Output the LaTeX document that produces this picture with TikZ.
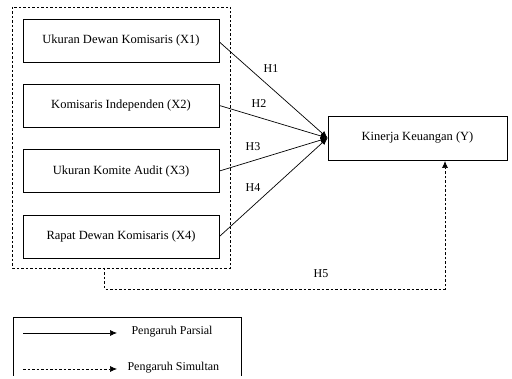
\documentclass[tikz,border=0pt]{standalone}
\usepackage{fontspec}
\setmainfont{Liberation Serif}
\usetikzlibrary{arrows.meta}
\begin{document}
\begin{tikzpicture}[x=1pt,y=-1pt,
  every node/.style={font=\fontsize{12.5}{14}\selectfont},
  varbox/.style={draw,line width=0.9pt,minimum width=196pt,minimum height=43pt,inner sep=0pt},
  solidarrow/.style={line width=0.7pt,-{Latex[length=7pt,width=6pt]}},
  dasharrow/.style={line width=0.7pt,dash pattern=on 2.5pt off 2pt,-{Latex[length=7pt,width=6pt]}},
  lbl/.style={font=\fontsize{12}{14}\selectfont}]
\useasboundingbox (0,0) rectangle (512,379);
% faint watermark
\fill[black!4] (60,0) arc[start angle=180,end angle=360,x radius=130,y radius=110] -- cycle;
% outer dashed group box
\draw[line width=0.8pt,dash pattern=on 2.5pt off 2pt] (12.5,7) rectangle (230.5,268);
\node[varbox] (x1) at (121,40.5) {Ukuran Dewan Komisaris (X1)};
\node[varbox] (x2) at (121,105.5) {Komisaris Independen (X2)};
\node[varbox] (x3) at (121,171) {Ukuran Komite Audit (X3)};
\node[varbox] (x4) at (121,236.5) {Rapat Dewan Komisaris (X4)};
\node[draw,line width=0.9pt,minimum width=179pt,minimum height=44pt,inner sep=0pt] (y) at (417.5,138) {Kinerja Keuangan (Y)};
\draw[solidarrow] (x1.east) ++(0,1.5) -- (y.west);
\draw[solidarrow] (x2.east) -- (y.west);
\draw[solidarrow] (x3.east) -- (y.west);
\draw[solidarrow] (x4.east) -- (y.west);
\node[lbl] (h1) at (271,69) {H1};
\node[lbl] (h2) at (259,104) {H2};
\node[lbl] (h3) at (253,147) {H3};
\node[lbl] (h4) at (253,188) {H4};
\node[lbl] (h5) at (321,274) {H5};
\coordinate (g) at (104,268);
\draw[dasharrow] (g) -- (104,289) -- (445,289) -- (445,161);
% legend
\draw[line width=0.8pt] (13,376) -- (13,317) -- (241,317) -- (241,376);
\coordinate (la) at (23,333);
\coordinate (lb) at (117,333);
\draw[solidarrow] (la) -- (lb);
\node[lbl,anchor=west] (lp) at (128,332) {Pengaruh Parsial};
\coordinate (lc) at (23,369);
\coordinate (ld) at (117,369);
\draw[dasharrow] (lc) -- (ld);
\node[lbl,anchor=west] (ls) at (124,368) {Pengaruh Simultan};
\end{tikzpicture}
\end{document}
